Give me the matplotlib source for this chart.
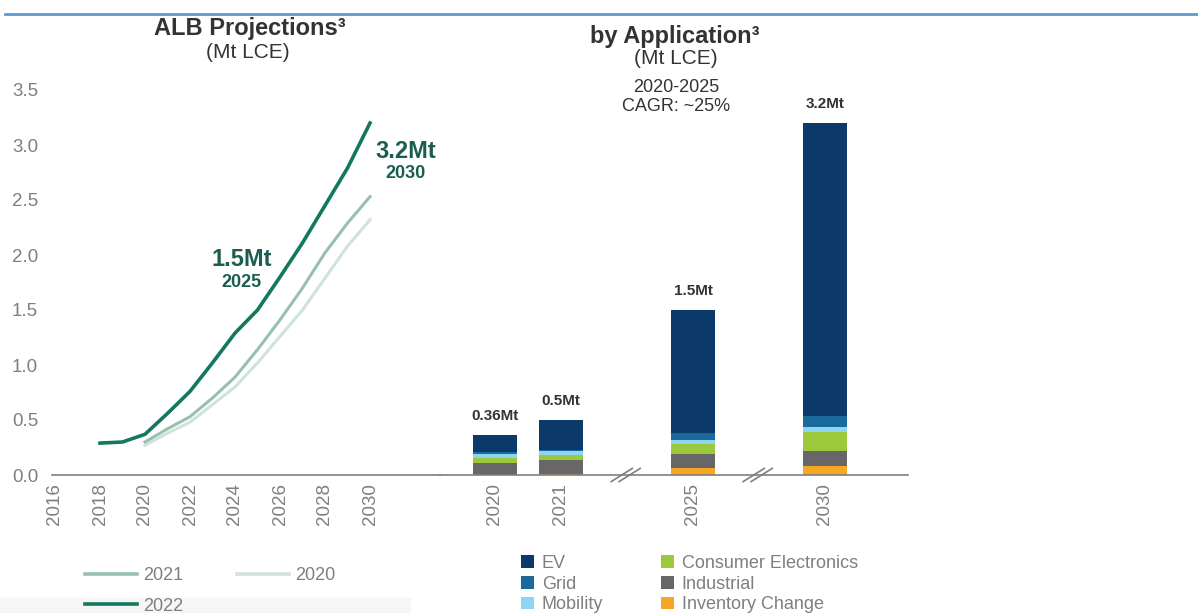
import numpy as np
import matplotlib
matplotlib.use("Agg")
import matplotlib.pyplot as plt
from matplotlib.patches import Rectangle
from matplotlib.lines import Line2D

plt.rcParams['font.family'] = ['Liberation Sans', 'DejaVu Sans']

# ---- data ----
years_2022 = [2018, 2019, 2020, 2021, 2022, 2023, 2024, 2025, 2026, 2027, 2028, 2029, 2030]
proj_2022 = [0.29, 0.30, 0.37, 0.56, 0.76, 1.02, 1.29, 1.50, 1.80, 2.11, 2.45, 2.79, 3.20]
years_old = [2020, 2021, 2022, 2023, 2024, 2025, 2026, 2027, 2028, 2029, 2030]
proj_2021 = [0.30, 0.42, 0.53, 0.70, 0.89, 1.14, 1.41, 1.70, 2.02, 2.29, 2.53]
proj_2020 = [0.27, 0.38, 0.48, 0.64, 0.80, 1.02, 1.26, 1.50, 1.79, 2.08, 2.32]

bar_years = ['2020', '2021', '2025', '2030']
bar_pos = [0, 1, 3, 5]
inventory = [0.00, 0.010, 0.06, 0.080]
industrial = [0.11, 0.125, 0.13, 0.140]
consumer = [0.045, 0.045, 0.09, 0.175]
mobility = [0.04, 0.035, 0.04, 0.045]
grid = [0.01, 0.015, 0.06, 0.095]
ev = [0.155, 0.270, 1.12, 2.665]
bar_labels = ['0.36Mt', '0.5Mt', '1.5Mt', '3.2Mt']

W, H = 1198, 613
def fx(px): return px / W
def fy(py): return 1 - py / H

GRAY = '#7f7f7f'
DARK = '#333333'
TEAL = '#1b5e50'
C22, C21, C20 = '#12785f', '#96c1ae', '#cfe3da'

fig = plt.figure(figsize=(W / 100, H / 100), dpi=100)

# header rule and shaded strip under the line legend
fig.add_artist(Line2D([fx(5), 1], [fy(14), fy(14)], color='#5b9bd5', lw=2))
fig.add_artist(Rectangle((0, 0), fx(410), fy(598), color='#f6f6f6', zorder=0))

# ---- left: projection lines ----
ax1 = fig.add_axes([fx(52), fy(475), fx(440) - fx(52), fy(90) - fy(475)])
ax1.plot(years_old, proj_2020, color=C20, lw=2.2, label='2020')
ax1.plot(years_old, proj_2021, color=C21, lw=2.2, label='2021')
ax1.plot(years_2022, proj_2022, color=C22, lw=2.6, label='2022')
ax1.set_xlim(2016 - 3 / 22.5, 2016 + 385 / 22.5)
ax1.set_ylim(0, 3.5)
ax1.set_xticks(range(2016, 2031, 2))
ax1.set_xticklabels([str(y) for y in range(2016, 2031, 2)], rotation=90)
ax1.set_yticks(np.arange(0, 3.51, 0.5))
ax1.set_yticklabels(['%.1f' % v for v in np.arange(0, 3.51, 0.5)])
ax1.tick_params(axis='both', length=0, colors=GRAY, labelsize=13.5)
ax1.tick_params(axis='y', pad=10)
ax1.tick_params(axis='x', pad=6)

ax1.text(2024.3, 1.96, '1.5Mt', color=TEAL, fontsize=17, fontweight='bold', ha='center', va='center')
ax1.text(2024.3, 1.75, '2025', color=TEAL, fontsize=13, fontweight='bold', ha='center', va='center')
ax1.text(2031.6, 2.94, '3.2Mt', color=TEAL, fontsize=17, fontweight='bold', ha='center', va='center')
ax1.text(2031.6, 2.74, '2030', color=TEAL, fontsize=13, fontweight='bold', ha='center', va='center')

# ---- right: stacked bars by application ----
ax2 = fig.add_axes([fx(440), fy(475), fx(908) - fx(440), fy(90) - fy(475)])
segments = [
    (inventory, '#f5a623', 'Inventory Change'),
    (industrial, '#676767', 'Industrial'),
    (consumer, '#9cc83c', 'Consumer Electronics'),
    (mobility, '#8fd4f2', 'Mobility'),
    (grid, '#1b6a9c', 'Grid'),
    (ev, '#0b3a6a', 'EV'),
]
bottom = np.zeros(len(bar_pos))
handles = {}
for vals, col, name in segments:
    handles[name] = ax2.bar(bar_pos, vals, 0.68, bottom=bottom, color=col, label=name)
    bottom += np.array(vals)
for x, top, lab in zip(bar_pos, bottom, bar_labels):
    ax2.annotate(lab, (x, top), xytext=(0, 14), textcoords='offset points',
                 ha='center', va='center', fontsize=11, fontweight='bold', color=DARK)
ax2.set_xlim(-55 / 66, 413 / 66)
ax2.set_ylim(0, 3.5)
ax2.set_xticks(bar_pos)
ax2.set_xticklabels(bar_years, rotation=90)
ax2.set_yticks([])
ax2.tick_params(axis='x', length=0, colors=GRAY, labelsize=13.5, pad=6)

# axis breaks
for b in (2.0, 4.0):
    for off in (-0.06, 0.06):
        ax2.plot([b - 0.18 + off, b + 0.14 + off], [-0.06, 0.06], color=GRAY, lw=1.2, clip_on=False)

for ax in (ax1, ax2):
    for s in ('top', 'right', 'left'):
        ax.spines[s].set_visible(False)
    ax.spines['bottom'].set_color(GRAY)
    ax.spines['bottom'].set_linewidth(1.2)
    ax.patch.set_alpha(0)

# ---- titles ----
fig.text(fx(250), fy(29), 'ALB Projections³', fontsize=17, fontweight='bold', color=DARK, ha='center', va='center')
fig.text(fx(248), fy(53), '(Mt LCE)', fontsize=15, color=DARK, ha='center', va='center')
fig.text(fx(675), fy(36), 'by Application³', fontsize=17, fontweight='bold', color=DARK, ha='center', va='center')
fig.text(fx(676), fy(59), '(Mt LCE)', fontsize=15, color=DARK, ha='center', va='center')
fig.text(fx(676), fy(88), '2020-2025', fontsize=13, color=DARK, ha='center', va='center')
fig.text(fx(676), fy(106), 'CAGR: ~25%', fontsize=13, color=DARK, ha='center', va='center')

# ---- legends ----
line_h = [Line2D([], [], color=C21, lw=2.6), Line2D([], [], color=C22, lw=2.6), Line2D([], [], color=C20, lw=2.6)]
fig.legend(line_h, ['2021', '2022', '2020'], ncol=2, loc='upper left',
           bbox_to_anchor=(fx(85), fy(567)), frameon=False, fontsize=13, labelcolor=GRAY,
           handlelength=2.9, handletextpad=0.3, columnspacing=3.0, labelspacing=0.75,
           borderpad=0, borderaxespad=0)
order = ['EV', 'Grid', 'Mobility', 'Consumer Electronics', 'Industrial', 'Inventory Change']
fig.legend([handles[n] for n in order], order, ncol=2, loc='upper left',
           bbox_to_anchor=(fx(521), fy(555)), frameon=False, fontsize=13, labelcolor=GRAY,
           handlelength=0.7, handleheight=0.7, handletextpad=0.45, columnspacing=3.2,
           labelspacing=0.2, borderpad=0, borderaxespad=0)

fig.savefig('out.png', dpi=100)
